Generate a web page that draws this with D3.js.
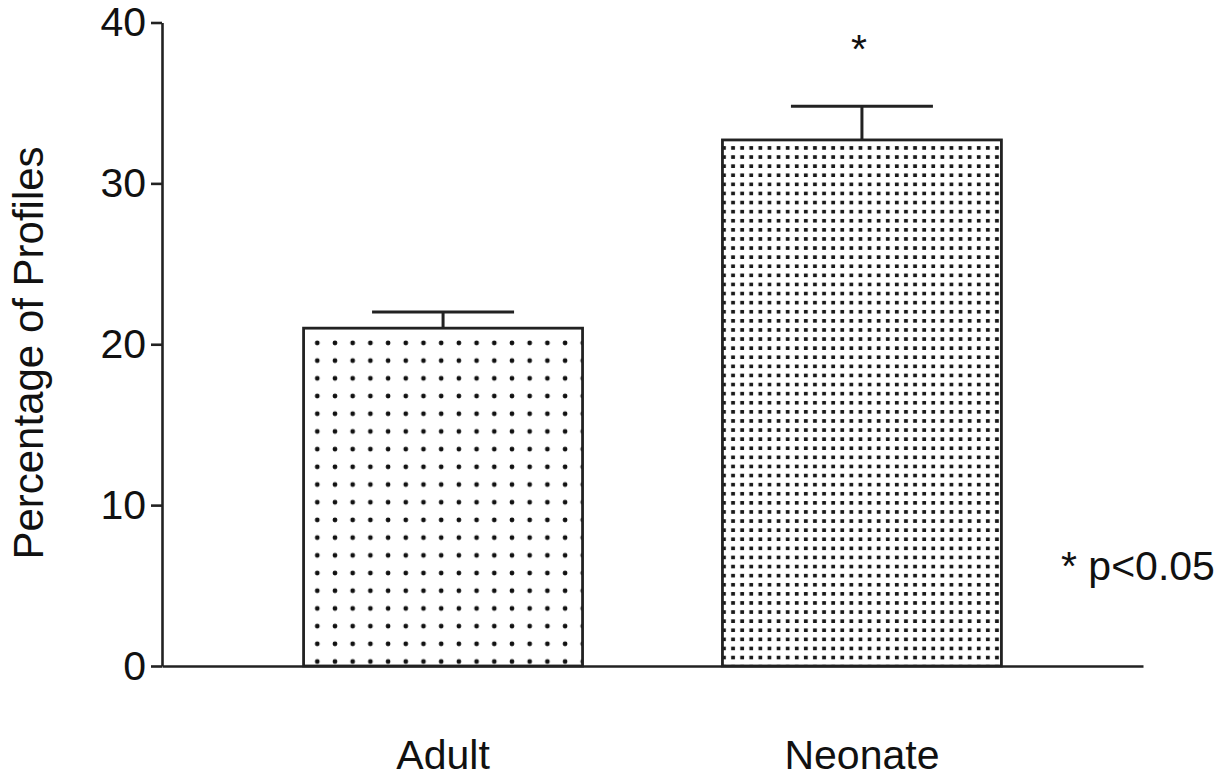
<!DOCTYPE html>
<html>
<head>
<meta charset="utf-8">
<script src="https://cdn.jsdelivr.net/npm/d3@7"></script>
<style>
  html, body { margin: 0; padding: 0; background: #fff; }
  svg { display: block; }
  text { font-family: "Liberation Sans", Arial, Helvetica, sans-serif; fill: #111; }
</style>
</head>
<body>
<svg id="chart" width="1229" height="778"></svg>
<script>
// Group means with one-sided SEM error bars
const categories = ["Adult", "Neonate"];
const means = [21.0, 32.7];
const sems = [1.0, 2.1];
const yTicks = [0, 10, 20, 30, 40];
const significance = ["", "*"];
const footnote = "* p<0.05";
const yTitle = "Percentage of Profiles";

const svg = d3.select("#chart");
const ink = "#222";
const fontSize = 41;

const x = d3.scaleBand()
  .domain(categories)
  .range([162, 1143])
  .paddingInner(0.334)
  .paddingOuter(0.338);

const y = d3.scaleLinear().domain([0, 40]).range([666, 22.5]);

// Stipple fills: sparse round dots for the first group, dense square dots for the second
const stipple = [
  { spacing: 17.7, offX: 13.7, offY: 14.8, r: 2.4, square: false },
  { spacing: 9.1, offX: 10.6, offY: 8.0, r: 1.9, square: true }
];
const defs = svg.append("defs");
categories.forEach((c, i) => {
  const s = stipple[i];
  const p = defs.append("pattern")
    .attr("id", "dots" + i)
    .attr("patternUnits", "userSpaceOnUse")
    .attr("width", s.spacing)
    .attr("height", s.spacing)
    .attr("x", x(c) + s.offX - s.spacing / 2)
    .attr("y", y(means[i]) + s.offY - s.spacing / 2);
  p.append("rect").attr("width", s.spacing).attr("height", s.spacing).attr("fill", "#fff");
  if (s.square) {
    p.append("rect")
      .attr("x", s.spacing / 2 - s.r)
      .attr("y", s.spacing / 2 - s.r)
      .attr("width", s.r * 2)
      .attr("height", s.r * 2)
      .attr("rx", 0.6)
      .attr("fill", "#1a1a1a");
  } else {
    p.append("circle")
      .attr("cx", s.spacing / 2)
      .attr("cy", s.spacing / 2)
      .attr("r", s.r)
      .attr("fill", "#111");
  }
});

// Error bars (drawn first so bar outline sits on top at the join)
const capHalf = 71;
const err = svg.append("g").attr("stroke", ink).attr("stroke-width", 3).attr("fill", "none");
categories.forEach((c, i) => {
  const cx = x(c) + x.bandwidth() / 2;
  err.append("line")
    .attr("x1", cx).attr("x2", cx)
    .attr("y1", y(means[i])).attr("y2", y(means[i] + sems[i]));
  err.append("line")
    .attr("x1", cx - capHalf).attr("x2", cx + capHalf)
    .attr("y1", y(means[i] + sems[i])).attr("y2", y(means[i] + sems[i]));
});

// Bars
svg.append("g")
  .selectAll("rect")
  .data(categories)
  .join("rect")
  .attr("x", d => x(d))
  .attr("y", (d, i) => y(means[i]))
  .attr("width", x.bandwidth())
  .attr("height", (d, i) => y(0) - y(means[i]))
  .attr("fill", (d, i) => `url(#dots${i})`)
  .attr("stroke", ink)
  .attr("stroke-width", 2.8);

// Y axis
const yAxis = svg.append("g")
  .attr("transform", "translate(162,0)")
  .call(d3.axisLeft(y).tickValues(yTicks).tickFormat(d3.format("d"))
    .tickSize(11).tickSizeOuter(0).tickPadding(5));
yAxis.selectAll("path, line").attr("stroke", ink).attr("stroke-width", 2.6);
yAxis.selectAll("text").style("font-size", fontSize + "px").attr("fill", "#111");

// X axis
const xAxis = svg.append("g")
  .attr("transform", "translate(0,666)")
  .call(d3.axisBottom(x).tickSize(0).tickSizeOuter(0).tickPadding(74));
xAxis.select(".domain").attr("stroke", ink).attr("stroke-width", 2.6);
xAxis.selectAll("text").style("font-size", fontSize + "px").attr("fill", "#111");

// Significance markers above error bars
svg.append("g")
  .selectAll("text")
  .data(categories)
  .join("text")
  .attr("x", d => x(d) + x.bandwidth() / 2 - 3)
  .attr("y", (d, i) => y(means[i] + sems[i]) - 43)
  .attr("text-anchor", "middle")
  .style("font-size", fontSize + "px")
  .text((d, i) => significance[i]);

// Footnote
svg.append("text")
  .attr("x", 1061)
  .attr("y", 580)
  .style("font-size", fontSize + "px")
  .text(footnote);

// Y axis title
svg.append("text")
  .attr("transform", "translate(43,353) rotate(-90)")
  .attr("text-anchor", "middle")
  .style("font-size", "42px")
  .text(yTitle);
</script>
</body>
</html>
